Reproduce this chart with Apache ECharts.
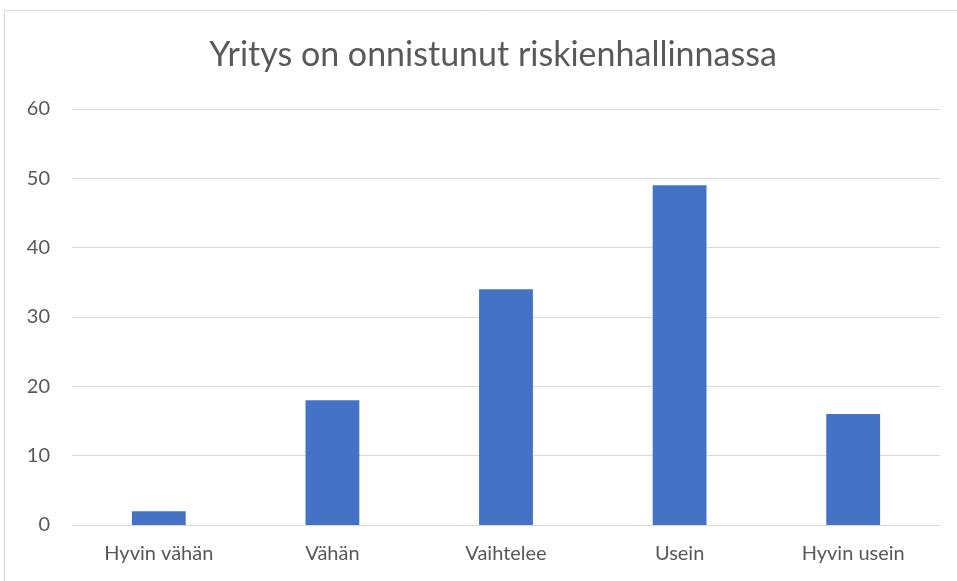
<!DOCTYPE html>
<html>
<head>
<meta charset="utf-8">
<script src="https://cdn.jsdelivr.net/npm/echarts@6/dist/echarts.min.js"></script>
<style>
  html, body { margin: 0; padding: 0; background: #fff; }
  #chart { width: 957px; height: 581px; }
</style>
</head>
<body>
<div id="chart"></div>
<script>
// data
const categories = ['Hyvin vähän', 'Vähän', 'Vaihtelee', 'Usein', 'Hyvin usein'];
const values = [2, 18, 34, 49, 16];
const titleText = 'Yritys on onnistunut riskienhallinnassa';

const myChart = echarts.init(document.getElementById('chart'));
const option = {
  backgroundColor: '#fff',
  animation: false,
  title: {
    text: titleText,
    left: 488,
    textAlign: 'center',
    top: 33,
    textStyle: {
      color: '#595959',
      fontFamily: 'Lato',
      fontWeight: 'normal',
      fontSize: 34
    }
  },
  graphic: [{
    type: 'rect',
    shape: { x: 4.5, y: 10.5, width: 1000, height: 1000 },
    style: { fill: 'none', stroke: '#d9d9d9', lineWidth: 1 },
    silent: true
  }],
  grid: {
    left: 72,
    right: 17,
    top: 109,
    bottom: 56
  },
  xAxis: {
    type: 'category',
    data: categories,
    axisLine: { lineStyle: { color: '#d9d9d9', width: 1 } },
    axisTick: { show: false },
    axisLabel: {
      color: '#595959',
      fontFamily: 'Lato',
      fontSize: 20,
      margin: 19
    }
  },
  yAxis: {
    type: 'value',
    min: 0,
    max: 60,
    interval: 10,
    axisLine: { show: false },
    axisTick: { show: false },
    splitLine: { lineStyle: { color: '#d9d9d9', width: 1 } },
    axisLabel: {
      color: '#595959',
      fontFamily: 'Lato',
      fontSize: 20,
      margin: 22
    }
  },
  series: [{
    type: 'bar',
    data: values,
    barWidth: '31%',
    itemStyle: { color: '#4472c4' }
  }]
};
myChart.setOption(option);
window.onresize = myChart.resize;
</script>
</body>
</html>
